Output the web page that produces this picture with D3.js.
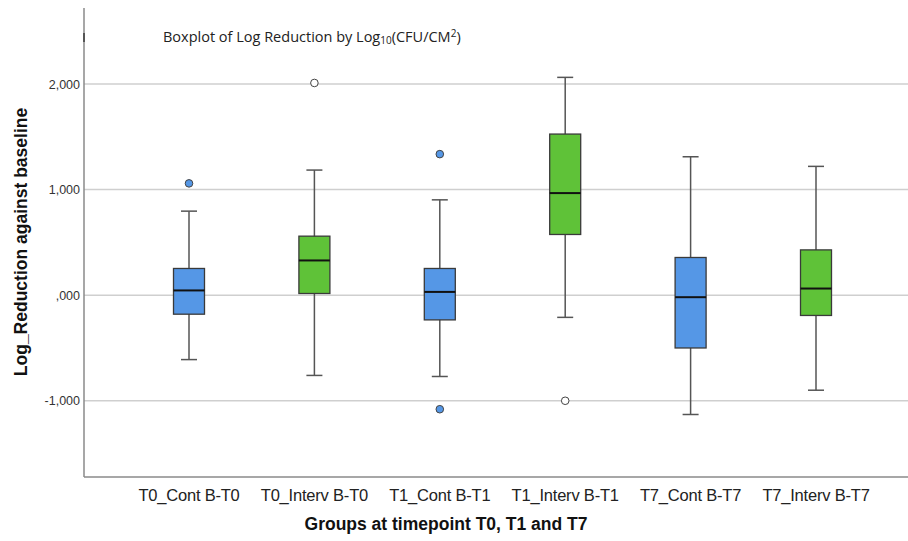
<!DOCTYPE html>
<html>
<head>
<meta charset="utf-8">
<script src="https://cdn.jsdelivr.net/npm/d3@7"></script>
<style>
  body { margin: 0; background: #fff; }
  svg { display: block; }
</style>
</head>
<body>
<svg id="chart" width="908" height="541"></svg>
<script>
// groups on the x axis
const groups = ["T0_Cont B-T0", "T0_Interv B-T0", "T1_Cont B-T1", "T1_Interv B-T1", "T7_Cont B-T7", "T7_Interv B-T7"]
const kinds = ["cont", "interv", "cont", "interv", "cont", "interv"]
// five-number summaries
const whiskerLow = [-0.61, -0.76, -0.77, -0.21, -1.13, -0.90]
const q1 = [-0.18, 0.016, -0.234, 0.575, -0.50, -0.192]
const median = [0.045, 0.329, 0.031, 0.967, -0.019, 0.063]
const q3 = [0.253, 0.559, 0.253, 1.526, 0.357, 0.429]
const whiskerHigh = [0.796, 1.185, 0.903, 2.063, 1.311, 1.22]
// outliers: [group index, value]
const outliers = [[0, 1.059], [1, 2.01], [2, 1.336], [2, -1.08], [3, -1.0]]
const yTicks = [-1, 0, 1, 2]

const colors = { cont: "#5597e6", interv: "#5fc238" }

const svg = d3.select("#chart")
const plot = { left: 84, right: 908, top: 8, bottom: 477 }

const x = d3.scalePoint().domain(groups).range([189, 816])
const y = d3.scaleLinear().domain([-1.722, 2.72]).range([plot.bottom, plot.top])

// SPSS style labels: comma decimal, no leading zero ("2,000", ",000", "-1,000")
const fmt = v => d3.format(".3f")(v).replace("\u2212", "-").replace(".", ",").replace(/^(-?)0,/, "$1,")

// gridlines
svg.append("g").selectAll("line").data(yTicks).join("line")
  .attr("x1", plot.left).attr("x2", plot.right)
  .attr("y1", d => y(d)).attr("y2", d => y(d))
  .attr("stroke", "#cfcfcf").attr("stroke-width", 1.5)

// tick labels
svg.append("g").selectAll("text").data(yTicks).join("text")
  .attr("x", 80).attr("y", d => y(d) + 4.5)
  .attr("text-anchor", "end")
  .style("font-family", "Liberation Sans, Arial, sans-serif")
  .style("font-size", "12.5px").attr("fill", "#333")
  .text(d => fmt(d))

// axes lines
svg.append("line").attr("x1", plot.left).attr("x2", plot.left).attr("y1", plot.top).attr("y2", plot.bottom)
  .attr("stroke", "#8a8a8a").attr("stroke-width", 1.5)
svg.append("line").attr("x1", plot.left).attr("x2", plot.right).attr("y1", plot.bottom).attr("y2", plot.bottom)
  .attr("stroke", "#8a8a8a").attr("stroke-width", 1.5)
svg.append("line").attr("x1", plot.left).attr("x2", plot.left).attr("y1", 33).attr("y2", 42)
  .attr("stroke", "#555").attr("stroke-width", 2)

const boxW = 31, capW = 16
const boxes = svg.append("g").selectAll("g").data(groups).join("g")
  .attr("transform", d => `translate(${x(d)},0)`)

boxes.append("line")
  .attr("x1", 0).attr("x2", 0)
  .attr("y1", (d, i) => y(whiskerHigh[i])).attr("y2", (d, i) => y(whiskerLow[i]))
  .attr("stroke", "#555").attr("stroke-width", 1.5)
boxes.append("line")
  .attr("x1", -capW / 2).attr("x2", capW / 2)
  .attr("y1", (d, i) => y(whiskerHigh[i])).attr("y2", (d, i) => y(whiskerHigh[i]))
  .attr("stroke", "#555").attr("stroke-width", 1.5)
boxes.append("line")
  .attr("x1", -capW / 2).attr("x2", capW / 2)
  .attr("y1", (d, i) => y(whiskerLow[i])).attr("y2", (d, i) => y(whiskerLow[i]))
  .attr("stroke", "#555").attr("stroke-width", 1.5)
boxes.append("rect")
  .attr("x", -boxW / 2).attr("width", boxW)
  .attr("y", (d, i) => y(q3[i])).attr("height", (d, i) => y(q1[i]) - y(q3[i]))
  .attr("fill", (d, i) => colors[kinds[i]])
  .attr("stroke", "#3a3a3a").attr("stroke-width", 1.3)
boxes.append("line")
  .attr("x1", -boxW / 2).attr("x2", boxW / 2)
  .attr("y1", (d, i) => y(median[i])).attr("y2", (d, i) => y(median[i]))
  .attr("stroke", "#111").attr("stroke-width", 2)

// outliers
svg.append("g").selectAll("circle").data(outliers).join("circle")
  .attr("cx", d => x(groups[d[0]])).attr("cy", d => y(d[1]))
  .attr("r", 3.8)
  .attr("fill", d => kinds[d[0]] === "cont" ? colors.cont : "#fff")
  .attr("stroke", "#444").attr("stroke-width", 1)

// x tick labels
svg.append("g").selectAll("text").data(groups).join("text")
  .attr("x", d => x(d)).attr("y", 501)
  .attr("text-anchor", "middle")
  .style("font-family", "Liberation Sans, Arial, sans-serif")
  .style("font-size", "16.5px").style("letter-spacing", "-0.2px").attr("fill", "#222")
  .text(d => d)

// axis titles
svg.append("text")
  .attr("x", 446).attr("y", 530).attr("text-anchor", "middle")
  .style("font-family", "Liberation Sans, Arial, sans-serif")
  .style("font-size", "17.5px").style("font-weight", "bold").attr("fill", "#111")
  .text("Groups at timepoint T0, T1 and T7")

svg.append("text")
  .attr("transform", "translate(27,242) rotate(-90)")
  .attr("text-anchor", "middle")
  .style("font-family", "Liberation Sans, Arial, sans-serif")
  .style("font-size", "17.5px").style("font-weight", "bold").attr("fill", "#111")
  .text("Log_Reduction against baseline")

// chart title with subscript and superscript
const title = svg.append("text")
  .attr("x", 163).attr("y", 42)
  .style("font-family", "Open Sans, Lato, sans-serif")
  .style("font-size", "14.5px").attr("fill", "#222")
title.append("tspan").text("Boxplot of Log Reduction by Log")
title.append("tspan").attr("dy", 2).style("font-size", "10px").text("10")
title.append("tspan").attr("dy", -2).text("(CFU/CM")
title.append("tspan").attr("dy", -5).style("font-size", "10px").text("2")
title.append("tspan").attr("dy", 5).text(")")
</script>
</body>
</html>
